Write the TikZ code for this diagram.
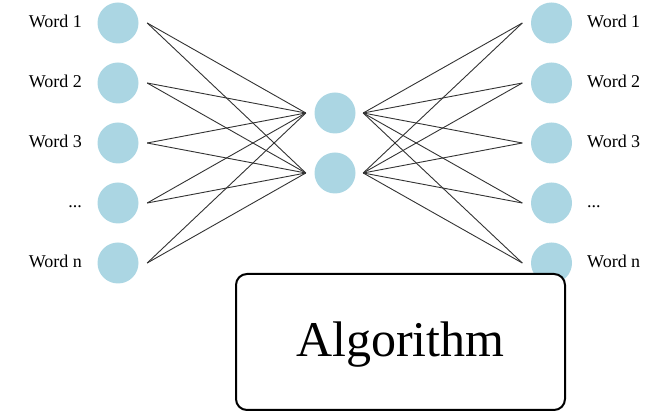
\documentclass[tikz,border=0pt]{standalone}
\usepackage{fontspec}
\setmainfont{Liberation Serif}
\definecolor{unitblue}{RGB}{171,214,227}
\newcommand\wdots{.\kern0pt.\kern0pt.}
\tikzset{
  unit/.style={circle, fill=unitblue, draw=none, minimum size=41pt, inner sep=0pt},
  wordlbl/.style={font=\fontsize{18}{20}\selectfont, text height=12pt, text depth=0pt, inner sep=0pt},
  link/.style={line width=0.9pt, draw=black!80},
  algbox/.style={draw=black, line width=2pt, rounded corners=11pt, fill=white,
    minimum width=329pt, minimum height=136pt, inner sep=0pt,
    font=\fontsize{50}{56}\selectfont, text height=30pt, text depth=0pt}
}
\begin{document}
\begin{tikzpicture}[x=1pt, y=-1pt]
\useasboundingbox (0,0) rectangle (656,411);

% input and output layers with labels
\foreach \i/\y/\t in {1/23/Word 1, 2/83/Word 2, 3/143/Word 3, 4/203/\wdots, 5/263/Word n} {
  \node[unit] (L\i) at (118,\y) {};
  \node[wordlbl, anchor=east] (LT\i) at (82,\y-1) {\t};
  \coordinate (Lo\i) at ([xshift=8.5pt]L\i.east);
  \node[unit] (R\i) at (551.5,\y) {};
  \node[wordlbl, anchor=west] (RT\i) at (587,\y-1) {\t};
  \coordinate (Ri\i) at ([xshift=-8.5pt]R\i.west);
}

% hidden layer
\node[unit] (M1) at (335,113) {};
\node[unit] (M2) at (335,173) {};
\coordinate (Mi1) at ([xshift=-8.5pt]M1.west);
\coordinate (Mi2) at ([xshift=-8.5pt]M2.west);
\coordinate (Mo1) at ([xshift=7.5pt]M1.east);
\coordinate (Mo2) at ([xshift=7.5pt]M2.east);

% full connections
\foreach \i in {1,...,5} {
  \foreach \j in {1,2} {
    \draw[link] (Lo\i) -- (Mi\j);
    \draw[link] (Mo\j) -- (Ri\i);
  }
}

% algorithm box
\node[algbox] (alg) at (400.5,342) {Algorithm};
\end{tikzpicture}
\end{document}
